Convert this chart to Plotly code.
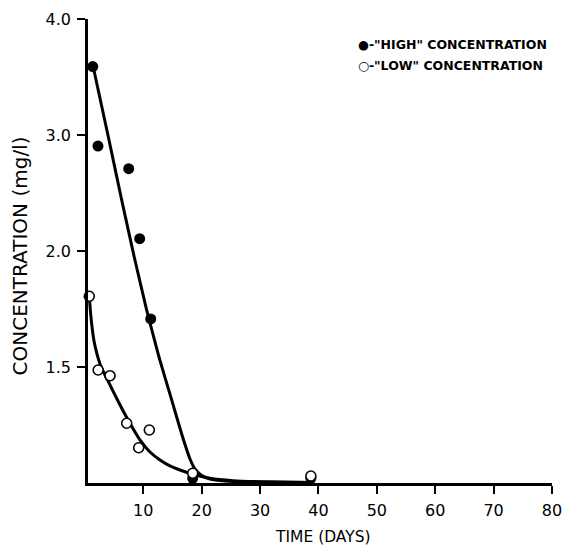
import plotly.graph_objects as go

# Tick labels (the original's y scale is labelled unevenly; positions 0..4)
y_tick_pos = [1, 2, 3, 4]
y_tick_text = ["1.5", "2.0", "3.0", "4.0"]
x_ticks = [10, 20, 30, 40, 50, 60, 70, 80]

# Observed points (days, plotted concentration position)
high_x = [1.34, 2.24, 7.5, 9.38, 11.27, 18.46, 38.7]
high_y = [3.59, 2.905, 2.71, 2.106, 1.414, 0.04, 0.04]
low_x = [0.75, 2.27, 4.3, 7.16, 9.21, 11.03, 18.46, 38.7]
low_y = [1.61, 0.974, 0.925, 0.515, 0.304, 0.457, 0.084, 0.06]

# Fitted curves
high_cx = [1.39, 3.87, 6.30, 8.41, 10.58, 12.69, 14.86, 16.63, 18.00, 18.85, 19.88, 21.42, 23.99, 28.27, 38.72]
high_cy = [3.595, 3.017, 2.44, 1.957, 1.491, 1.086, 0.716, 0.414, 0.207, 0.121, 0.069, 0.034, 0.017, 0.009, 0.004]
low_cx = [0.75, 0.96, 1.16, 1.56, 2.07, 2.59, 3.44, 4.30, 5.67, 7.21, 9.43, 11.14, 12.86, 14.57, 16.28, 18.51,
          21.4, 25.36, 29.98, 38.72]
low_cy = [1.606, 1.474, 1.371, 1.224, 1.112, 1.026, 0.931, 0.845, 0.707, 0.560, 0.371, 0.267, 0.198, 0.147, 0.112,
          0.075, 0.041, 0.020, 0.011, 0.004]

FONT = "DejaVu Sans"

fig = go.Figure()
for cx, cy in [(high_cx, high_cy), (low_cx, low_cy)]:
    fig.add_trace(go.Scatter(x=cx, y=cy, mode="lines",
                             line=dict(color="black", width=3, shape="spline", smoothing=0.5),
                             showlegend=False, cliponaxis=False, hoverinfo="skip"))
fig.add_trace(go.Scatter(x=high_x, y=high_y, mode="markers", name='"HIGH" CONCENTRATION',
                         marker=dict(symbol="circle", size=11, color="black"), showlegend=False, cliponaxis=False))
fig.add_trace(go.Scatter(x=low_x, y=low_y, mode="markers", name='"LOW" CONCENTRATION',
                         marker=dict(symbol="circle", size=10, color="white", line=dict(color="black", width=1.6)),
                         showlegend=False, cliponaxis=False))

legend_lines = ['●-"HIGH" CONCENTRATION', '○-"LOW" CONCENTRATION']
for i, txt in enumerate(legend_lines):
    fig.add_annotation(x=0.578, y=0.946 - i * 0.0455, xref="paper", yref="paper", xanchor="left", yanchor="middle",
                       text=txt, showarrow=False, font=dict(family=FONT, size=12.5, color="black", weight="bold"))

# axis titles
fig.add_annotation(x=0.5, y=-0.117, xref="paper", yref="paper", xanchor="center", yanchor="middle",
                   text="TIME (DAYS)", showarrow=False, font=dict(family=FONT, size=15.5, color="black"), xshift=3)
fig.add_annotation(x=-0.147, y=0.49, xref="paper", yref="paper", xanchor="center", yanchor="middle", textangle=-90,
                   text="CONCENTRATION (mg/l)", showarrow=False, font=dict(family=FONT, size=20, color="black"))

fig.update_layout(
    width=565, height=546,
    margin=dict(l=88, r=13, t=19, b=63, autoexpand=False),
    paper_bgcolor="white", plot_bgcolor="white",
    font=dict(family=FONT, color="black"),
    xaxis=dict(range=[0.53, 80], tickvals=x_ticks, ticks="outside", ticklen=8, tickwidth=2, tickcolor="black",
               showline=True, linecolor="black", linewidth=2.5, showgrid=False, zeroline=False, automargin=False,
               ticklabelstandoff=3, tickfont=dict(family=FONT, size=16, color="black")),
    yaxis=dict(range=[0, 4], tickvals=y_tick_pos, ticktext=y_tick_text, ticks="outside", ticklen=8, tickwidth=2,
               tickcolor="black", showline=True, linecolor="black", linewidth=2.5, showgrid=False, zeroline=False,
               automargin=False, ticklabelstandoff=3, tickfont=dict(family=FONT, size=16, color="black")),
)

fig.write_html("out.html", config={"displayModeBar": False},
               post_script="document.body.style.margin='0';document.body.style.overflow='hidden';")
